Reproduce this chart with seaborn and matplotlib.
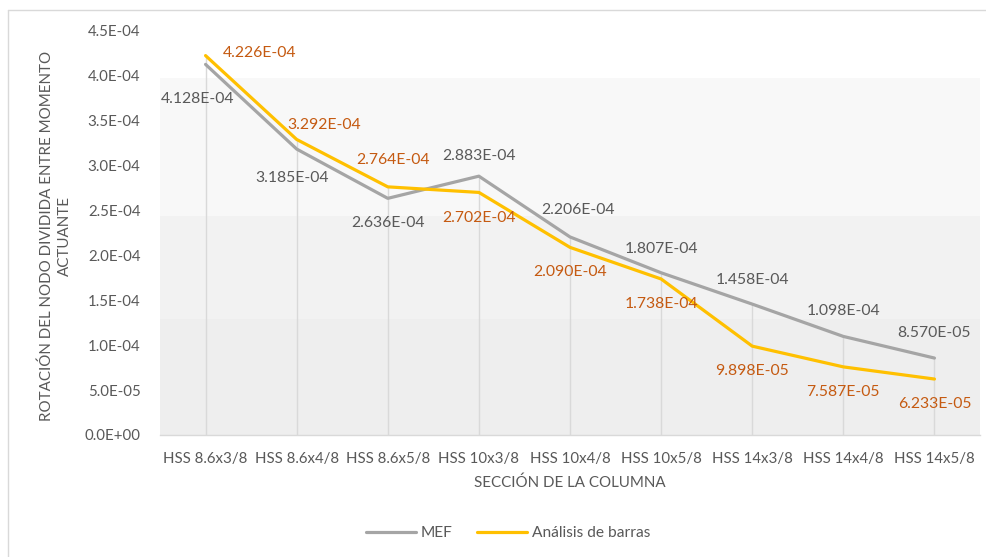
import matplotlib
matplotlib.use("Agg")
import matplotlib.pyplot as plt
from matplotlib.lines import Line2D
from matplotlib.ticker import FuncFormatter
import numpy as np
import pandas as pd
import seaborn as sns

secciones = ["HSS 8.6x3/8", "HSS 8.6x4/8", "HSS 8.6x5/8", "HSS 10x3/8", "HSS 10x4/8",
             "HSS 10x5/8", "HSS 14x3/8", "HSS 14x4/8", "HSS 14x5/8"]
mef = [4.128e-4, 3.185e-4, 2.636e-4, 2.883e-4, 2.206e-4, 1.807e-4, 1.458e-4, 1.098e-4, 8.570e-5]
barras = [4.226e-4, 3.292e-4, 2.764e-4, 2.702e-4, 2.090e-4, 1.738e-4, 9.898e-5, 7.587e-5, 6.233e-5]
y_ticks = [0.0, 5e-5, 1e-4, 1.5e-4, 2e-4, 2.5e-4, 3e-4, 3.5e-4, 4e-4, 4.5e-4]

# label placement per point: (dx px, dy px) offsets
mef_off = [(-8, -35), (-5, -29), (0, -25), (0, 20), (8, 27), (0, 24), (0, 24), (0, 25), (0, 25)]
bar_off = [(54, 3), (27, 14), (5, 27), (0, -26), (0, -25), (0, -25), (0, -25), (0, -25), (0, -25)]

sns.set_theme(style="white")
plt.rcParams["font.family"] = ["Lato", "DejaVu Sans"]

GRAY = "#a5a5a5"
GOLD = "#ffc000"
TXT = "#595959"
ORANGE = "#c55a11"

df = pd.DataFrame({
    "x": list(range(len(secciones))) * 2,
    "valor": mef + barras,
    "serie": ["MEF"] * len(mef) + ["Análisis de barras"] * len(barras),
})

W, H = 986, 557
fig = plt.figure(figsize=(W / 100, H / 100), dpi=100)
ax = fig.add_axes([160 / W, (H - 435) / H, 820 / W, 404 / H])

# background bands
ax.axhspan(2.44e-4, 3.98e-4, color="#f8f8f8", zorder=0, lw=0)
ax.axhspan(1.29e-4, 2.44e-4, color="#f2f2f2", zorder=0, lw=0)
ax.axhspan(0, 1.29e-4, color="#eeeeee", zorder=0, lw=0)

xs = np.arange(len(secciones))
ax.vlines(xs, 0, np.maximum(mef, barras), color="#d9d9d9", lw=1, zorder=1)

sns.lineplot(data=df, x="x", y="valor", hue="serie", palette={"MEF": GRAY, "Análisis de barras": GOLD},
             lw=2.3, ax=ax, legend=False, zorder=3)

for i, v in enumerate(mef):
    ax.annotate(f"{v:.3E}", (i, v), xytext=mef_off[i], textcoords="offset pixels",
                ha="center", va="center", fontsize=11.3, color=TXT, zorder=4)
for i, v in enumerate(barras):
    ax.annotate(f"{v:.3E}", (i, v), xytext=bar_off[i], textcoords="offset pixels",
                ha="center", va="center", fontsize=11.3, color=ORANGE, zorder=4)

ax.set_xlim(-0.5, len(secciones) - 0.5)
ax.set_ylim(0, 4.5e-4)
ax.set_yticks(y_ticks)
ax.yaxis.set_major_formatter(FuncFormatter(lambda v, p: f"{v:.1E}"))
ax.set_xticks(xs)
ax.set_xticklabels(secciones)
ax.tick_params(axis="both", colors=TXT, labelsize=10.8, length=0)
ax.tick_params(axis="y", pad=14)
ax.tick_params(axis="x", pad=12)

for s in ["top", "right", "left"]:
    ax.spines[s].set_visible(False)
ax.spines["bottom"].set_color("#d9d9d9")
ax.spines["bottom"].set_linewidth(1)

ax.set_xlabel("SECCIÓN DE LA COLUMNA", color=TXT, fontsize=10.9, labelpad=7)
ax.set_ylabel("")
fig.text(56 / W, 1 - 236 / H, "ROTACIÓN DEL NODO DIVIDIDA ENTRE MOMENTO\nACTUANTE", rotation=90,
         ha="center", va="center", fontsize=10.9, color=TXT, multialignment="center", linespacing=1.35)

# legend
handles = [Line2D([], [], color=GRAY, lw=2.3), Line2D([], [], color=GOLD, lw=2.3)]
fig.legend(handles, ["MEF", "Análisis de barras"], loc="center", bbox_to_anchor=(508 / W, 1 - 533 / H),
           ncol=2, frameon=False, fontsize=11.2, handlelength=3.2, handletextpad=0.3, columnspacing=1.6,
           labelcolor=TXT)

# chart border
fig.add_artist(Line2D([8 / W, 8 / W], [0, 1 - 10 / H], color="#d9d9d9", lw=1, transform=fig.transFigure))
fig.add_artist(Line2D([8 / W, 1], [1 - 10 / H, 1 - 10 / H], color="#d9d9d9", lw=1, transform=fig.transFigure))

fig.savefig("out.png", dpi=100, facecolor="white")
